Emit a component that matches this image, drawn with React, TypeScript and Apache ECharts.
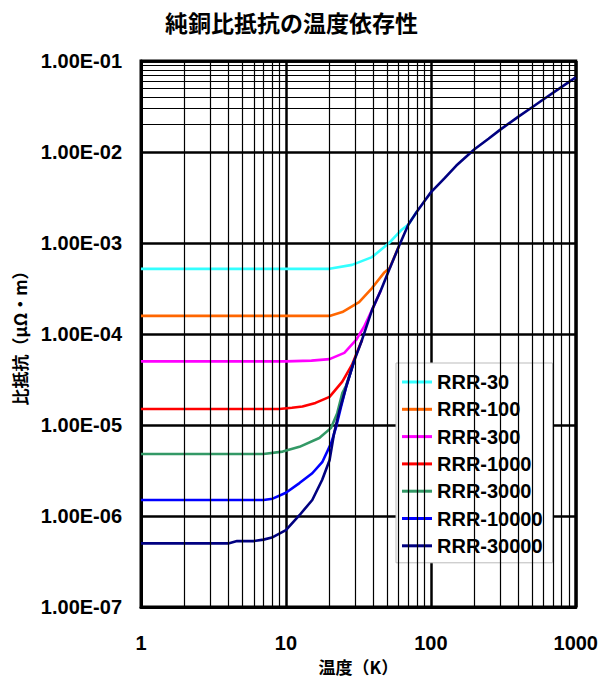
import React, { useEffect, useRef } from 'react';
import * as echarts from 'echarts';

const titleText = '純銅比抵抗の温度依存性';
const xName = '温度（K）';
const yName = '比抵抗（μΩ・m）';

const xTickLabels = ['1', '10', '100', '1000'];
const yTickLabels = ['1.00E-07', '1.00E-06', '1.00E-05', '1.00E-04', '1.00E-03', '1.00E-02', '1.00E-01'];

const seriesNames = ['RRR-30', 'RRR-100', 'RRR-300', 'RRR-1000', 'RRR-3000', 'RRR-10000', 'RRR-30000'];
const seriesColors = ['#33FFFF', '#FF6600', '#FF00FF', '#FF0000', '#339966', '#0000FF', '#000080'];

const rrr30 = [[1, 5.2e-4], [20, 5.2e-4], [28.6, 5.75e-4], [39.3, 7.0e-4], [51.5, 1.0e-3], [63, 1.4e-3], [70, 1.6e-3], [80, 2.2e-3]];
const rrr100 = [[1, 1.58e-4], [20, 1.58e-4], [24.5, 1.74e-4], [32, 2.24e-4], [39.3, 3.2e-4], [47.5, 4.7e-4], [52, 5.3e-4], [60, 9.1e-4]];
const rrr300 = [[1, 5.0e-5], [10, 5.0e-5], [15, 5.1e-5], [20, 5.3e-5], [25.3, 6.2e-5], [30.5, 8.6e-5], [34.6, 1.2e-4], [39.3, 1.84e-4], [45.3, 3.05e-4]];
const rrr1000 = [[1, 1.5e-5], [9, 1.5e-5], [11, 1.55e-5], [13, 1.6e-5], [16, 1.75e-5], [20, 2.04e-5], [24.5, 3.0e-5], [28.6, 4.6e-5], [33.5, 8.6e-5]];
const rrr3000 = [[1, 4.8e-6], [7, 4.8e-6], [9.5, 5.1e-6], [12.4, 5.75e-6], [17, 7.2e-6], [20.5, 9.3e-6], [22.6, 1.35e-5], [24.5, 2.24e-5], [26, 2.7e-5], [29.5, 5.0e-5]];
const rrr10000 = [[1, 1.5e-6], [7, 1.5e-6], [8.1, 1.55e-6], [10, 1.8e-6], [12.4, 2.3e-6], [15.2, 2.95e-6], [17.8, 3.9e-6], [20.5, 6.3e-6], [22.2, 9.5e-6], [24, 1.58e-5], [26, 2.6e-5], [29.5, 5.0e-5]];
const rrr30000 = [[1, 5.0e-7], [2, 5.0e-7], [4, 5.0e-7], [4.6, 5.3e-7], [6, 5.3e-7], [7, 5.5e-7], [8, 5.8e-7], [10, 7.0e-7], [12.4, 1.02e-6], [15.2, 1.5e-6], [17.8, 2.5e-6], [20, 4.1e-6], [21.5, 8.1e-6], [23.3, 1.4e-5], [26, 2.6e-5], [29.5, 5.0e-5], [33.5, 8.6e-5], [39.3, 1.84e-4], [45.3, 3.05e-4], [51.5, 5.05e-4], [60, 9.1e-4], [70, 1.6e-3], [80, 2.2e-3], [90, 2.85e-3], [100, 3.6e-3], [125, 5.2e-3], [150, 7.1e-3], [200, 1.07e-2], [250, 1.4e-2], [300, 1.75e-2], [400, 2.43e-2], [500, 3.1e-2], [600, 3.8e-2], [800, 5.2e-2], [1000, 6.6e-2]];

const seriesData = [rrr30, rrr100, rrr300, rrr1000, rrr3000, rrr10000, rrr30000];

const xDecades = [1, 10, 100];
const yDecades = [1e-7, 1e-6, 1e-5, 1e-4, 1e-3, 1e-2];
const minorSteps = [2, 3, 4, 5, 6, 7, 8, 9];

const numFont = 'Liberation Sans, Arial, sans-serif';
const cjkFont = 'Noto Sans CJK JP, sans-serif';

export default function App() {
  const ref = useRef<HTMLDivElement>(null);
  useEffect(() => {
    if (!ref.current) return;
    const chart = echarts.init(ref.current, null, { renderer: 'svg' });
    const minorLines: any[] = [];
    xDecades.forEach((d) => minorSteps.forEach((m) => minorLines.push({ xAxis: d * m })));
    yDecades.forEach((d) => minorSteps.forEach((m) => minorLines.push({ yAxis: d * m })));

    const series: any[] = [
      {
        name: 'grid-minor',
        type: 'line',
        z: 1,
        data: [[1, 1e-7]],
        showSymbol: false,
        lineStyle: { opacity: 0 },
        silent: true,
        markLine: {
          silent: true,
          symbol: 'none',
          label: { show: false },
          lineStyle: { color: '#000', width: 1.2, type: 'solid' },
          data: minorLines,
        },
      },
    ];
    seriesNames.forEach((name, i) => {
      series.push({
        name,
        type: 'line',
        z: 3,
        data: seriesData[i],
        showSymbol: false,
        symbol: 'none',
        smooth: false,
        lineStyle: { color: seriesColors[i], width: 2.6 },
        itemStyle: { color: seriesColors[i] },
      });
    });

    chart.setOption({
      animation: false,
      backgroundColor: '#fff',
      title: {
        text: titleText,
        left: 165,
        top: 10,
        padding: 0,
        textStyle: { fontFamily: cjkFont, fontSize: 23, fontWeight: 'bold', color: '#000' },
      },
      grid: {
        left: 141,
        top: 61,
        width: 436,
        height: 546,
        show: true,
        borderColor: '#000',
        borderWidth: 3,
        backgroundColor: '#fff',
      },
      legend: {
        data: seriesNames,
        orient: 'vertical',
        left: 396,
        top: 363,
        padding: [9, 10, 7, 6],
        backgroundColor: '#fff',
        borderColor: '#bbb',
        borderWidth: 1,
        itemWidth: 30,
        itemHeight: 3,
        itemGap: 7.3,
        icon: 'rect',
        textStyle: { fontFamily: numFont, fontSize: 20, fontWeight: 'bold', color: '#000', lineHeight: 20 },
      },
      xAxis: {
        type: 'log',
        logBase: 10,
        min: 1,
        max: 1000,
        name: xName,
        nameLocation: 'middle',
        nameGap: 50,
        nameTextStyle: { fontFamily: cjkFont, fontSize: 17, fontWeight: 'bold', color: '#000' },
        axisLine: { show: true, lineStyle: { color: '#000', width: 3 } },
        axisTick: { show: false },
        axisLabel: {
          margin: 26,
          fontFamily: numFont,
          fontSize: 20,
          fontWeight: 'bold',
          color: '#000',
          formatter: (v: number) => xTickLabels[Math.round(Math.log10(v))] ?? '',
        },
        splitLine: { show: true, lineStyle: { color: '#000', width: 2.5 } },
      },
      yAxis: {
        type: 'log',
        logBase: 10,
        min: 1e-7,
        max: 1e-1,
        name: yName,
        nameLocation: 'middle',
        nameGap: 113,
        nameRotate: 90,
        nameTextStyle: { fontFamily: cjkFont, fontSize: 17, fontWeight: 'bold', color: '#000' },
        axisLine: { show: true, lineStyle: { color: '#000', width: 3 } },
        axisTick: { show: false },
        axisLabel: {
          margin: 19,
          fontFamily: numFont,
          fontSize: 20,
          fontWeight: 'bold',
          color: '#000',
          formatter: (v: number) => yTickLabels[Math.round(Math.log10(v)) + 7] ?? '',
        },
        splitLine: { show: true, lineStyle: { color: '#000', width: 2.5 } },
      },
      series,
    });
    return () => chart.dispose();
  }, []);
  return <div ref={ref} style={{ position: 'fixed', left: 0, top: 0, width: 601, height: 681 }} />;
}
